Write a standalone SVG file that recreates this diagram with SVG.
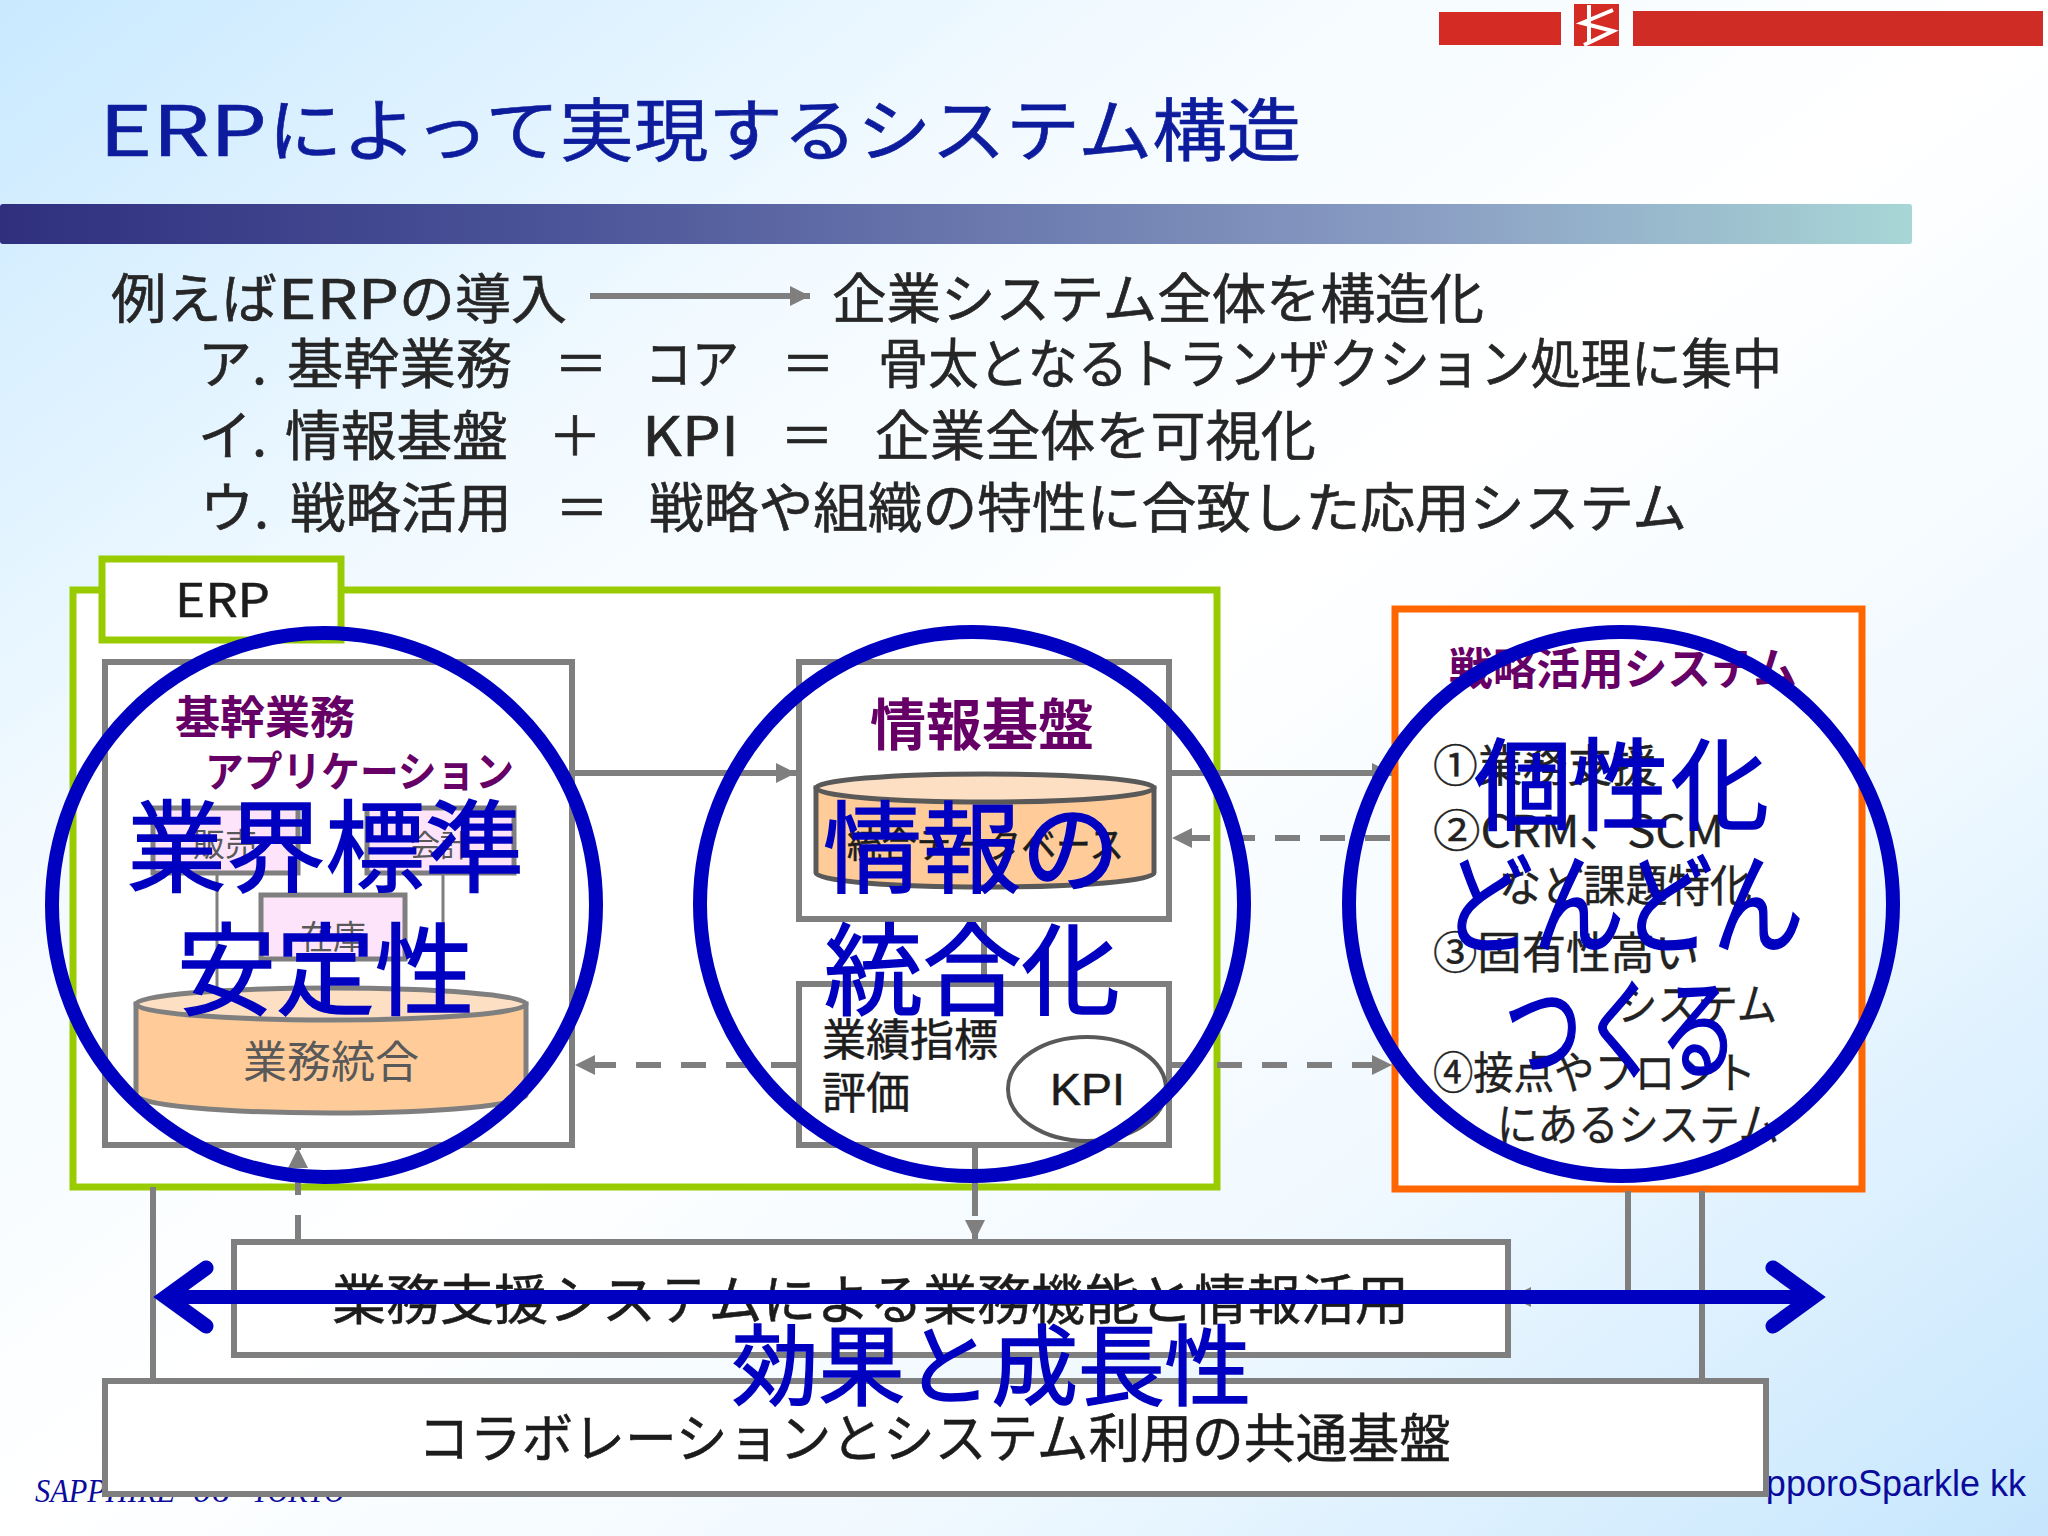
<svg xmlns="http://www.w3.org/2000/svg" width="2048" height="1536" viewBox="0 0 2048 1536">
<defs>
<linearGradient id="bg" x1="0" y1="0" x2="1" y2="1">
<stop offset="0" stop-color="#c9e9ff"/><stop offset="0.28" stop-color="#f2faff"/><stop offset="0.5" stop-color="#ffffff"/><stop offset="0.72" stop-color="#f0f9ff"/><stop offset="1" stop-color="#c6e6fd"/>
</linearGradient>
<linearGradient id="band" x1="0" y1="0" x2="1" y2="0">
<stop offset="0" stop-color="#2f2f7e"/><stop offset="0.3" stop-color="#4c5599"/><stop offset="0.75" stop-color="#8b9fc4"/><stop offset="1" stop-color="#a8d6d6"/>
</linearGradient>
<marker id="ah" markerUnits="userSpaceOnUse" markerWidth="20" markerHeight="22" refX="20" refY="11" orient="auto"><path d="M0 1L20 11L0 21Z" fill="#7f7f7f"/></marker>
</defs>
<style>
text{font-family:"Noto Sans CJK JP","Liberation Sans",sans-serif}
.t{fill:#1c1c1c;stroke:#1c1c1c;stroke-width:.5}
.b{font-size:54px;fill:#262626;stroke:#262626;stroke-width:.6}
.p{font-weight:700;fill:#660066}
.g{fill:#595959}
.ov{font-size:100px;fill:#0000c0;stroke:#0000c0;stroke-width:1.5}
.box{fill:#fff;stroke:#7f7f7f;stroke-width:6}
.pk{fill:#fde4fb;stroke:#7f7f7f;stroke-width:5}
.lime{fill:#fff;stroke:#99cc00;stroke-width:7}
.c{fill:none;stroke:#7f7f7f;stroke-width:6}
.d{stroke-dasharray:25 20}
.ring{fill:none;stroke:#0000c0;stroke-width:14}
.s{font-size:44px;fill:#222;stroke:#222;stroke-width:.4}
</style>
<rect id="background" width="2048" height="1536" fill="url(#bg)"/>
<g id="footer">
<text y="1502" font-size="34" fill="#0a0a9c" font-style="italic" style="font-family:'Liberation Serif',serif"><tspan x="35" textLength="140" lengthAdjust="spacingAndGlyphs">SAPPHIRE</tspan> <tspan x="193" textLength="37" lengthAdjust="spacingAndGlyphs">06</tspan> <tspan x="252" textLength="93" lengthAdjust="spacingAndGlyphs">TOKYO</tspan></text>
<text x="2026" y="1496" font-size="36" fill="#0a0a9c" text-anchor="end" style="font-family:'Liberation Sans',sans-serif">SapporoSparkle kk</text>
</g>
<g id="logo">
<rect x="1439" y="12" width="122" height="33" fill="#d42b25"/>
<rect x="1574" y="4" width="45" height="42" fill="#d42b25"/>
<rect x="1633" y="11" width="410" height="35" fill="#d02c26"/>
<path d="M1613 10L1582 23L1613 31L1584 45M1589 5V44" fill="none" stroke="#fff" stroke-width="4"/>
</g>
<text id="title" y="156" font-size="69" fill="#0c1c9c" stroke="#0c1c9c" stroke-width=".6"><tspan x="99" textLength="168" lengthAdjust="spacingAndGlyphs">ERP</tspan><tspan x="268" textLength="1033" lengthAdjust="spacingAndGlyphs">によって実現するシステム構造</tspan></text>
<rect id="title-band" x="0" y="204" width="1912" height="40" rx="3" fill="url(#band)"/>
<g id="intro">
<text class="b" y="319"><tspan x="111" textLength="166" lengthAdjust="spacingAndGlyphs">例えば</tspan><tspan x="278" textLength="121" lengthAdjust="spacingAndGlyphs">ERP</tspan><tspan x="399" textLength="168" lengthAdjust="spacingAndGlyphs">の導入</tspan></text>
<text class="b" x="832" y="319" textLength="652" lengthAdjust="spacingAndGlyphs">企業システム全体を構造化</text>
<text class="b" y="384"><tspan x="198">ア.</tspan><tspan x="287" textLength="225" lengthAdjust="spacingAndGlyphs">基幹業務</tspan><tspan x="554">＝</tspan><tspan x="645" textLength="94" lengthAdjust="spacingAndGlyphs">コア</tspan><tspan x="781">＝</tspan></text>
<text class="b" x="878" y="384" textLength="904" lengthAdjust="spacingAndGlyphs">骨太となるトランザクション処理に集中</text>
<text class="b" y="456"><tspan x="198">イ.</tspan><tspan x="285" textLength="223" lengthAdjust="spacingAndGlyphs">情報基盤</tspan><tspan x="548">＋</tspan><tspan x="642" textLength="97" lengthAdjust="spacingAndGlyphs">KPI</tspan><tspan x="780">＝</tspan><tspan x="875" textLength="441" lengthAdjust="spacingAndGlyphs">企業全体を可視化</tspan></text>
<text class="b" y="528"><tspan x="200">ウ.</tspan><tspan x="290" textLength="222" lengthAdjust="spacingAndGlyphs">戦略活用</tspan><tspan x="555">＝</tspan></text>
<text class="b" x="649" y="528" textLength="1038" lengthAdjust="spacingAndGlyphs">戦略や組織の特性に合致した応用システム</text>
</g>
<g id="erp">
<rect class="lime" x="73" y="590" width="1144" height="597"/>
<rect class="lime" x="102" y="559" width="239" height="81"/>
<text class="t" x="175" y="617" font-size="46" textLength="95" lengthAdjust="spacingAndGlyphs">ERP</text>
</g>
<g id="strategy-box">
<rect x="1395" y="609" width="467" height="580" fill="#fff" stroke="#ff6600" stroke-width="7"/>
</g>
<g id="connectors">
<path class="c" d="M590 296H810" marker-end="url(#ah)"/>
<path class="c" d="M575 773H796" marker-end="url(#ah)"/>
<path class="c" d="M1172 773H1392" marker-end="url(#ah)"/>
<path class="c d" d="M1390 838H1172" marker-end="url(#ah)"/>
<path class="c d" d="M796 1065H575" marker-end="url(#ah)"/>
<path class="c d" d="M1172 1065H1392" marker-end="url(#ah)"/>
<path class="c" d="M984 922V981"/>
<path class="c" d="M975 1148V1240" stroke-dasharray="68 7 100" marker-end="url(#ah)"/>
<path class="c d" d="M298 1240V1148" marker-end="url(#ah)"/>
<path class="c" d="M153 1187V1378"/>
<path class="c" d="M1702 1191V1378"/>
<path class="c" d="M1628 1191V1297H1511" marker-end="url(#ah)"/>
</g>
<g id="core-apps">
<rect class="box" x="105" y="662" width="467" height="483"/>
<text class="p" x="175" y="734" font-size="45" textLength="180" lengthAdjust="spacingAndGlyphs">基幹業務</text>
<text class="p" x="205" y="787" font-size="42" textLength="309" lengthAdjust="spacingAndGlyphs">アプリケーション</text>
</g>
<g id="sales"><rect class="pk" x="153" y="808" width="145" height="65"/><text class="g" x="193" y="856" font-size="32">販売</text></g>
<g id="accounting"><rect class="pk" x="367" y="808" width="147" height="65"/><text class="g" x="410" y="856" font-size="30">会計</text></g>
<path class="c" d="M217 875V990M443 875V990" style="stroke-width:3"/>
<g id="inventory"><rect class="pk" x="261" y="895" width="144" height="64"/><text class="g" x="300" y="949" font-size="33">在庫</text></g>
<g id="ops-db">
<path d="M136 1004V1095A195 18 0 0 0 526 1095V1004Z" fill="#ffcc99" stroke="#7f7f7f" stroke-width="5"/>
<ellipse cx="331" cy="1004" rx="195" ry="16" fill="#fde0c4" stroke="#7f7f7f" stroke-width="5"/>
<text class="g" x="243" y="1078" font-size="44">業務統合</text>
</g>
<g id="info-base">
<rect class="box" x="799" y="662" width="370" height="257"/>
<text class="p" x="870" y="745" font-size="56">情報基盤</text>
<path d="M816 788V873A169 14 0 0 0 1154 873V788Z" fill="#ffcc99" stroke="#595959" stroke-width="5"/>
<ellipse cx="985" cy="788" rx="169" ry="14" fill="#fde0c4" stroke="#595959" stroke-width="5"/>
<text class="t" x="847" y="858" font-size="36" textLength="277" lengthAdjust="spacingAndGlyphs">統合データベース</text>
</g>
<g id="kpi-box">
<rect class="box" x="799" y="984" width="370" height="161"/>
<text class="t" x="822" y="1056" font-size="44">業績指標</text>
<text class="t" x="822" y="1109" font-size="44">評価</text>
<ellipse cx="1087" cy="1089" rx="79" ry="52" fill="#fff" stroke="#595959" stroke-width="4"/>
<text class="t" x="1050" y="1105" font-size="44" textLength="75" lengthAdjust="spacingAndGlyphs" style="font-family:'Liberation Sans',sans-serif">KPI</text>
</g>
<g id="strategy-text">
<text class="p" x="1449" y="685" font-size="44" textLength="348" lengthAdjust="spacingAndGlyphs">戦略活用システム</text>
<text class="s" x="1433" y="782" textLength="224" lengthAdjust="spacingAndGlyphs">①業務支援</text>
<text class="s" x="1433" y="847" textLength="291" lengthAdjust="spacingAndGlyphs">②CRM、SCM</text>
<text class="s" x="1499" y="902" textLength="253" lengthAdjust="spacingAndGlyphs">など課題特化</text>
<text class="s" x="1433" y="969" textLength="266" lengthAdjust="spacingAndGlyphs">③固有性高い</text>
<text class="s" x="1617" y="1021" textLength="160" lengthAdjust="spacingAndGlyphs">システム</text>
<text class="s" x="1433" y="1089" textLength="323" lengthAdjust="spacingAndGlyphs">④接点やフロント</text>
<text class="s" x="1497" y="1141" textLength="282" lengthAdjust="spacingAndGlyphs">にあるシステム</text>
</g>
<g id="support-system">
<rect class="box" x="234" y="1242" width="1274" height="113"/>
<text class="t" x="332" y="1320" font-size="54" textLength="1077" lengthAdjust="spacingAndGlyphs">業務支援システムによる業務機能と情報活用</text>
</g>
<g id="collaboration-base">
<rect class="box" x="105" y="1381" width="1661" height="113"/>
<text class="t" x="418" y="1458" font-size="53" textLength="1033" lengthAdjust="spacingAndGlyphs">コラボレーションとシステム利用の共通基盤</text>
</g>
<g id="overlay-left">
<circle class="ring" cx="324" cy="905" r="272"/>
<text class="ov" x="127" y="884" textLength="397" lengthAdjust="spacingAndGlyphs">業界標準</text>
<text class="ov" x="177" y="1007" textLength="297" lengthAdjust="spacingAndGlyphs">安定性</text>
</g>
<g id="overlay-middle">
<circle class="ring" cx="972" cy="904" r="272"/>
<text class="ov" x="823" y="885" textLength="297" lengthAdjust="spacingAndGlyphs">情報の</text>
<text class="ov" x="824" y="1007" textLength="296" lengthAdjust="spacingAndGlyphs">統合化</text>
</g>
<g id="overlay-right">
<circle class="ring" cx="1621" cy="904" r="272"/>
<text class="ov" x="1474" y="822" textLength="295" lengthAdjust="spacingAndGlyphs">個性化</text>
<text class="ov" x="1442" y="945" style="font-size:110px" textLength="362" lengthAdjust="spacingAndGlyphs">どんどん</text>
<text class="ov" x="1504" y="1070" style="font-size:110px" textLength="234" lengthAdjust="spacingAndGlyphs">つくる</text>
</g>
<g id="overlay-bottom">
<path d="M166 1297H1813" fill="none" stroke="#0000c0" stroke-width="14"/>
<path d="M206 1268L166 1297L206 1326M1773 1268L1813 1297L1773 1326" fill="none" stroke="#0000c0" stroke-width="15" stroke-linecap="round"/>
<text class="ov" x="732" y="1398" style="font-size:88px" textLength="519" lengthAdjust="spacingAndGlyphs">効果と成長性</text>
</g>
</svg>
